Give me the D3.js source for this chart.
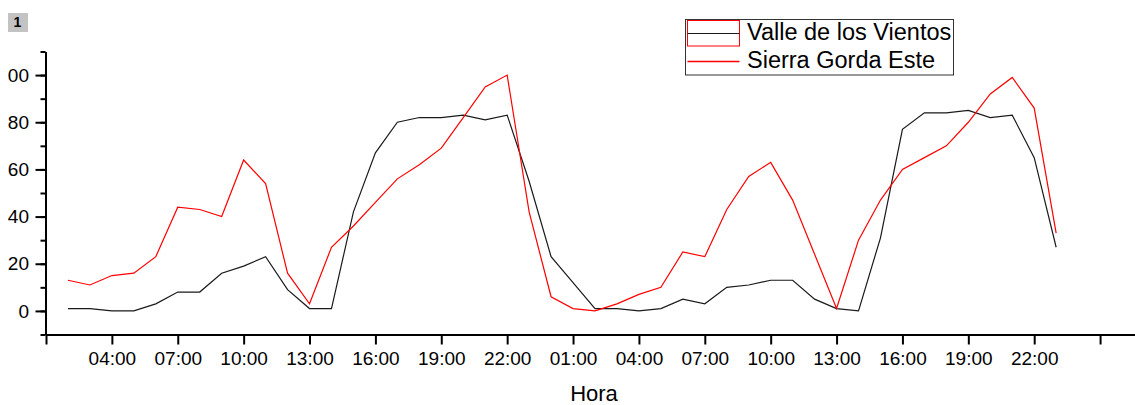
<!DOCTYPE html>
<html>
<head>
<meta charset="utf-8">
<script src="https://cdn.jsdelivr.net/npm/d3@7"></script>
<style>
  body { margin: 0; background: #fff; }
  svg { display: block; font-family: "Liberation Sans", Arial, sans-serif; }
</style>
</head>
<body>
<svg id="chart" width="1135" height="405"></svg>
<script>

// Series names and hourly values (02:00 day 1 .. 23:00 day 2)
const seriesNames = ["Valle de los Vientos", "Sierra Gorda Este"];

const valleDeLosVientos = [
  1, 1, 0, 0, 3, 8, 8, 16, 19, 23, 9, 1, 1, 42, 67, 80, 82, 82, 83, 81, 83, 55,
  23, 12, 1, 1, 0, 1, 5, 3, 10, 11, 13, 13, 5, 1, 0, 31, 77, 84, 84, 85, 82, 83, 65, 27
];

const sierraGordaEste = [
  13, 11, 15, 16, 23, 44, 43, 40, 64, 54, 16, 3, 27, 36, 46, 56, 62, 69, 82, 95, 100, 42,
  6, 1, 0, 3, 7, 10, 25, 23, 43, 57, 63, 47, 24, 1, 30, 47, 60, 65, 70, 80, 92, 99, 86, 33
];

const yTicks = [0, 20, 40, 60, 80, 100];

// time axis: starts 01:00 on the first day, ticks every 3 hours
const start = new Date(2020, 0, 1, 1);
const hours = d3.timeHour.range(d3.timeHour.offset(start, 1), d3.timeHour.offset(start, 47));
const xTicks = d3.timeHour.range(start, d3.timeHour.offset(start, 49), 3);


const svg = d3.select("#chart");

// scales
const x = d3.scaleTime()
    .domain([start, d3.timeHour.offset(start, 50)])
    .range([46, 46 + 50 * 21.96]);

const y = d3.scaleLinear()
    .domain([-10, 110])
    .range([334.5, 51.5]);

// x axis
const fmt = d3.timeFormat("%H:%M");
const xAxis = svg.append("g")
    .attr("transform", "translate(0,334.5)")
    .call(d3.axisBottom(x)
        .tickValues(xTicks)
        .tickSize(10)
        .tickSizeOuter(0)
        .tickPadding(7)
        .tickFormat((d, i) => (i === 0 || i === xTicks.length - 1) ? "" : fmt(d)));

// y axis, labels clipped on the left edge like the original export
svg.append("clipPath")
    .attr("id", "yclip")
    .append("rect")
        .attr("x", 8).attr("y", 0)
        .attr("width", 200).attr("height", 405);

const yAxis = svg.append("g")
    .attr("clip-path", "url(#yclip)")
    .append("g")
    .attr("transform", "translate(45.5,0)")
    .call(d3.axisLeft(y)
        .tickValues(yTicks)
        .tickSize(10)
        .tickSizeOuter(0)
        .tickPadding(6.5));

const yMinor = svg.append("g")
    .attr("transform", "translate(45.5,0)")
    .call(d3.axisLeft(y)
        .tickValues(d3.range(-10, 111, 10))
        .tickSize(5)
        .tickSizeOuter(0)
        .tickFormat(""));

[xAxis, yAxis, yMinor].forEach(g =>
{
  g.selectAll("path, line")
      .attr("stroke", "#000")
      .attr("stroke-width", 2);
  g.selectAll("text")
      .attr("fill", "#000")
      .attr("font-size", 19)
      .attr("font-family", "Liberation Sans, Arial, sans-serif");
});
yMinor.select(".domain").remove();

// axis title
svg.append("text")
    .attr("x", 594)
    .attr("y", 401)
    .attr("text-anchor", "middle")
    .attr("font-size", 22)
    .text("Hora");

// lines
const line = d3.line()
    .x((d, i) => x(hours[i]))
    .y(d => y(d));

svg.append("path")
    .datum(valleDeLosVientos)
    .attr("fill", "none")
    .attr("stroke", "#1a1a1a")
    .attr("stroke-width", 1.2)
    .attr("d", line);

svg.append("path")
    .datum(sierraGordaEste)
    .attr("fill", "none")
    .attr("stroke", "#ff0000")
    .attr("stroke-width", 1.2)
    .attr("d", line);

// layer marker top-left
svg.append("rect")
    .attr("x", 8).attr("y", 13)
    .attr("width", 20).attr("height", 19)
    .attr("fill", "#c3c3c3");
svg.append("text")
    .attr("x", 17.5).attr("y", 27)
    .attr("text-anchor", "middle")
    .attr("font-size", 14)
    .attr("font-weight", "bold")
    .text("1");

// legend
const legend = svg.append("g");
legend.append("rect")
    .attr("x", 685.5).attr("y", 19.5)
    .attr("width", 268).attr("height", 55.5)
    .attr("fill", "#fff")
    .attr("stroke", "#333")
    .attr("stroke-width", 1);

legend.append("rect")
    .attr("x", 687.5).attr("y", 20.5)
    .attr("width", 52).attr("height", 25.5)
    .attr("fill", "none")
    .attr("stroke", "#ff0000")
    .attr("stroke-width", 1);
legend.append("line")
    .attr("x1", 687.5).attr("x2", 739.5)
    .attr("y1", 33.5).attr("y2", 33.5)
    .attr("stroke", "#1a1a1a")
    .attr("stroke-width", 1.2);
legend.append("line")
    .attr("x1", 687.5).attr("x2", 739.5)
    .attr("y1", 61.5).attr("y2", 61.5)
    .attr("stroke", "#ff0000")
    .attr("stroke-width", 1.5);

legend.selectAll("text.item")
    .data(seriesNames)
    .enter()
    .append("text")
        .attr("class", "item")
        .attr("x", 747)
        .attr("y", (d, i) => 40 + i * 28)
        .attr("font-size", 23.5)
        .text(d => d);

</script>
</body>
</html>
